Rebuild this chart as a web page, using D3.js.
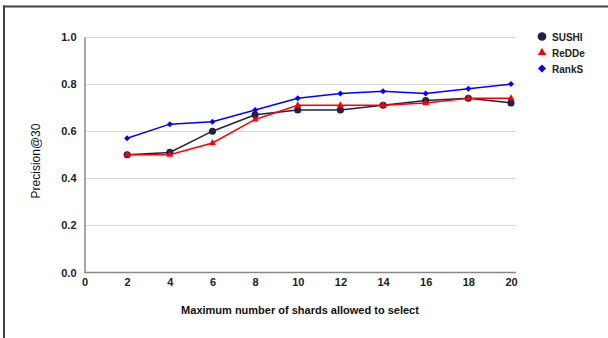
<!DOCTYPE html>
<html><head><meta charset="utf-8">
<script src="https://cdn.jsdelivr.net/npm/d3@7"></script>
<style>body{margin:0;background:#fff;}svg{display:block;font-family:"Liberation Sans",Arial,sans-serif;}</style>
</head><body>
<script>
const shards = [2,4,6,8,10,12,14,16,18,20];
const sushi = [0.50,0.51,0.60,0.67,0.69,0.69,0.71,0.73,0.74,0.72];
const redde = [0.50,0.50,0.55,0.65,0.71,0.71,0.71,0.72,0.74,0.74];
const ranks = [0.57,0.63,0.64,0.69,0.74,0.76,0.77,0.76,0.78,0.80];
const xTicks = [0,2,4,6,8,10,12,14,16,18,20];
const yTicks = [0,0.2,0.4,0.6,0.8,1.0];
const seriesNames = ["SUSHI","ReDDe","RankS"];

const W=608,H=338;
const svg=d3.select("body").append("svg").attr("width",W).attr("height",H);
// frame
svg.append("line").attr("x1",3).attr("x2",W).attr("y1",6.5).attr("y2",6.5).attr("stroke","#444").attr("stroke-width",2);
svg.append("line").attr("x1",4).attr("x2",4).attr("y1",5.5).attr("y2",H).attr("stroke","#444").attr("stroke-width",2);

const x=d3.scaleLinear().domain([0,20]).range([84.5,511]);
const y=d3.scaleLinear().domain([0,1]).range([272.5,37]);
const gridRight=516;

// grid
svg.append("g").selectAll("line").data(yTicks.filter(d=>d>0)).join("line")
 .attr("x1",x(0)).attr("x2",gridRight).attr("y1",d=>Math.round(y(d))+0.5).attr("y2",d=>Math.round(y(d))+0.5)
 .attr("stroke","#d9d9d9").attr("stroke-width",1);

// axes
const yAxis=svg.append("g").attr("transform",`translate(${x(0)},0)`)
 .call(d3.axisLeft(y).tickValues(yTicks).tickFormat(d3.format(".1f")).tickSize(0).tickPadding(8));
yAxis.select(".domain").attr("stroke","#888").attr("stroke-width",1.5);
yAxis.selectAll("text").attr("font-size",11).attr("font-weight","bold").attr("fill","#222");

const xAxis=svg.append("g").attr("transform",`translate(0,${y(0)})`)
 .call(d3.axisBottom(x).tickValues(xTicks).tickFormat(d3.format("d")).tickSize(0).tickPadding(6));
xAxis.select(".domain").attr("stroke","#888").attr("stroke-width",1.5).attr("d",`M${x(0)},0H${gridRight}`);
xAxis.selectAll("text").attr("font-size",11).attr("font-weight","bold").attr("fill","#222");

// titles
svg.append("text").attr("x",300).attr("y",314).attr("text-anchor","middle")
 .attr("font-size",11).attr("font-weight","bold").attr("fill","#111").text("Maximum number of shards allowed to select");
svg.append("text").attr("transform","translate(40,161) rotate(-90)").attr("text-anchor","middle")
 .attr("font-size",12).attr("fill","#111").text("Precision@30");

const colors={SUSHI:"#241f48",ReDDe:"#ff0000",RankS:"#0000ff"};
const data={SUSHI:sushi,ReDDe:redde,RankS:ranks};
const symbols={SUSHI:d3.symbolCircle,ReDDe:d3.symbolTriangle,RankS:d3.symbolSquare};
const rot={SUSHI:0,ReDDe:0,RankS:45};
const sizes={SUSHI:40,ReDDe:20,RankS:18};
const legSizes={SUSHI:60,ReDDe:30,RankS:32};
const line=d3.line().x((d,i)=>x(shards[i])).y(d=>y(d));

["RankS","SUSHI","ReDDe"].forEach(name=>{
  const g=svg.append("g");
  g.append("path").datum(data[name]).attr("d",line).attr("fill","none").attr("stroke",colors[name]).attr("stroke-width",1.5);
  g.selectAll("path.m").data(data[name]).join("path").attr("class","m")
   .attr("transform",(d,i)=>`translate(${x(shards[i])},${y(d)}) rotate(${rot[name]})`)
   .attr("d",d3.symbol().type(symbols[name]).size(sizes[name])).attr("fill",colors[name]);
});

// legend
const leg=svg.append("g");
seriesNames.forEach((name,i)=>{
  const cy=36.5+i*16;
  leg.append("path").attr("transform",`translate(542,${cy}) rotate(${rot[name]})`).attr("d",d3.symbol().type(symbols[name]).size(legSizes[name])).attr("fill",colors[name]);
  leg.append("text").attr("x",552).attr("y",cy+4).attr("font-size",10).attr("font-weight","bold").attr("fill","#222").text(name);
});
</script>
</body></html>
